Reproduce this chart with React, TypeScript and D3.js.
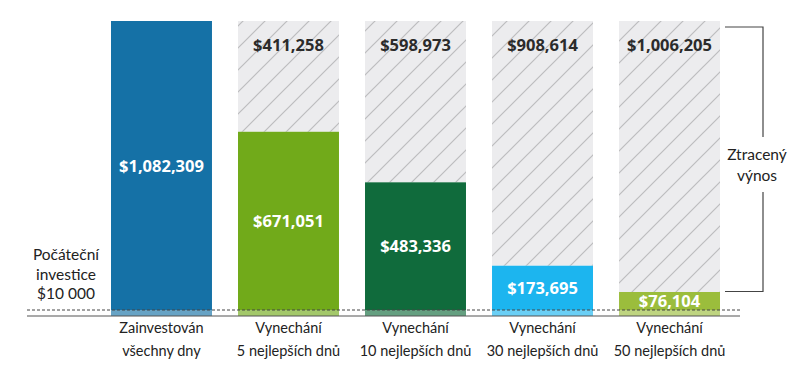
import React from 'react';
import * as d3 from 'd3';

// data
const line1 = ['Zainvestován', 'Vynechání', 'Vynechání', 'Vynechání', 'Vynechání'];
const line2 = ['všechny dny', '5 nejlepších dnů', '10 nejlepších dnů', '30 nejlepších dnů', '50 nejlepších dnů'];
const values = [1082309, 671051, 483336, 173695, 76104];
const lost = [0, 411258, 598973, 908614, 1006205];
const colors = ['#1571a6', '#71aa1a', '#106b3c', '#1cb5ef', '#9bbd3c'];

const W = 796;
const H = 369;
const base = 316;
const dashY = 310;

const fmt = (v: number) => '$' + d3.format(',')(v);

export default function App() {
  const x = d3
    .scaleBand<number>()
    .domain(values.map((_, i) => i))
    .range([111, 720])
    .paddingInner(0.205)
    .paddingOuter(0);
  const y = d3.scaleLinear().domain([0, d3.max(values)!]).range([312.5, 21]);
  const bw = x.bandwidth();
  const top = y(d3.max(values)!);

  return (
    <svg width={W} height={H} style={{ position: 'absolute', left: 0, top: 0 }}>
      <defs>
        {/* lines going up to the right, like "/" */}
        <pattern id="hatch" width="22" height="22" patternUnits="userSpaceOnUse">
          <rect width="22" height="22" fill="#ececee" />
          <path d="M0,22L22,0M-4,4L4,-4M18,26L26,18" stroke="#bdbdbf" strokeWidth="1.2" />
        </pattern>
      </defs>
      <rect width={W} height={H} fill="#fff" />

      {values.map((v, i) => {
        const bx = x(i)!;
        const by = y(v);
        const light = d3.interpolateRgb(colors[i], '#ffffff')(0.35);
        return (
          <g key={i}>
            {lost[i] > 0 && (
              <rect x={bx} y={top} width={bw} height={by - top} fill="url(#hatch)" />
            )}
            <rect x={bx} y={by} width={bw} height={base - by} fill={colors[i]} />
            <rect x={bx} y={dashY} width={bw} height={base - dashY} fill={light} />
            {lost[i] > 0 && (
              <text x={bx + bw / 2} y={top + 30} textAnchor="middle" fontFamily="'Open Sans', sans-serif"
                fontWeight="700" fontSize="16.5" fill="#2b2b2b">{fmt(lost[i])}</text>
            )}
            <text x={bx + bw / 2} y={(by + dashY) / 2 + 6} textAnchor="middle" fontFamily="'Open Sans', sans-serif"
              fontWeight="700" fontSize="16.5" fill="#fff">{fmt(v)}</text>
            <text x={bx + bw / 2} y={333} textAnchor="middle" fontFamily="Lato, sans-serif" fontSize="14.5" fill="#222">{line1[i]}</text>
            <text x={bx + bw / 2} y={356} textAnchor="middle" fontFamily="Lato, sans-serif" fontSize="14.5" fill="#222">{line2[i]}</text>
          </g>
        );
      })}

      <line x1={27} x2={740} y1={dashY} y2={dashY} stroke="#444" strokeWidth="1" strokeDasharray="3,2" />
      <line x1={27} x2={740} y1={base} y2={base} stroke="#555" strokeWidth="1.2" />

      <g fontFamily="Lato, sans-serif" fontSize="15.5" fill="#222" textAnchor="middle">
        <text x={66} y={260}>Počáteční</text>
        <text x={66} y={280}>investice</text>
        <text x={66} y={299}>$10 000</text>
        <text x={757} y={160}>Ztracený</text>
        <text x={757} y={181}>výnos</text>
      </g>

      <g stroke="#444" strokeWidth="1.2" fill="none">
        <path d={`M725,${top + 6}H763V137`} />
        <path d={`M763,192V${y(values[4]) - 0.5}H725`} />
      </g>
    </svg>
  );
}
